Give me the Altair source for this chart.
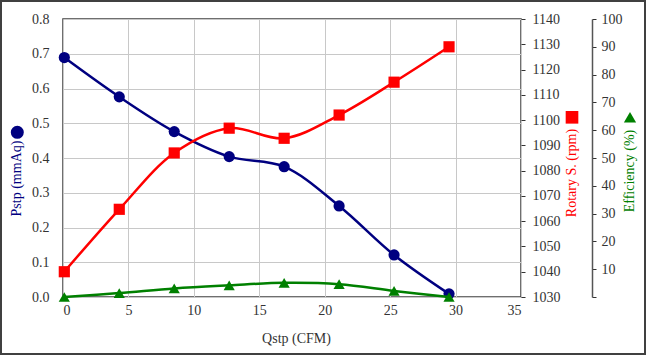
import altair as alt
import pandas as pd

q = [0.1, 4.3, 8.5, 12.7, 16.9, 21.1, 25.3, 29.5]
pstp = [0.689, 0.576, 0.476, 0.404, 0.375, 0.262, 0.121, 0.009]
rpm = [1040, 1064.7, 1087, 1096.8, 1092.8, 1102, 1115, 1129]
eff = [0, 1.4, 3.1, 4.2, 5.1, 4.6, 2.2, 0]

x_ticks = [0, 5, 10, 15, 20, 25, 30, 35]
pstp_ticks = [0, 0.1, 0.2, 0.3, 0.4, 0.5, 0.6, 0.7, 0.8]
rpm_ticks = [1030, 1040, 1050, 1060, 1070, 1080, 1090, 1100, 1110, 1120, 1130, 1140]
eff_ticks = [0, 10, 20, 30, 40, 50, 60, 70, 80, 90, 100]

df = pd.DataFrame({"q": q, "pstp": pstp, "rpm": rpm, "eff": eff})

FONT = "Liberation Serif"
W, H = 458, 278
BLUE, RED, GREEN = "#000080", "#FF0000", "#008000"

x_enc = alt.X("q:Q", scale=alt.Scale(domain=[0, 35], nice=False),
              axis=alt.Axis(values=x_ticks, title="Qstp (CFM)", grid=True,
                            gridColor="#c8c8c8", ticks=False, domain=False,
                            labelPadding=6, titleX=233, titleY=41,
                            titleBaseline="middle", titleFontWeight="normal"))

def series(field, color, shape, scale, axis):
    base = alt.Chart(df).encode(x=x_enc, y=alt.Y(f"{field}:Q", scale=scale, axis=axis))
    line = base.mark_line(color=color, strokeWidth=2.5, interpolate="catmull-rom")
    pts = base.mark_point(shape=shape, filled=True, color=color, size=125, opacity=1)
    return alt.layer(line, pts)

blue = series("pstp", BLUE, "circle",
              alt.Scale(domain=[0, 0.8], nice=False),
              alt.Axis(orient="left", values=pstp_ticks, format=".1f", grid=True,
                       gridColor="#c8c8c8", ticks=False, domain=False, labelPadding=14,
                       title="Pstp (mmAq)", titleColor=BLUE, titleAngle=270,
                       titleX=-46.5, titleY=159, titleBaseline="middle",
                       titleFontWeight="normal"))

red = series("rpm", RED, "square",
             alt.Scale(domain=[1030, 1140], nice=False),
             alt.Axis(orient="right", values=rpm_ticks, format="d", grid=False, ticks=True,
                      tickSize=4, tickColor="#333", domain=False, labelPadding=7,
                      title="Rotary S. (rpm)", titleColor=RED, titleAngle=270,
                      titleX=50, titleY=153.5, titleBaseline="middle",
                      titleFontWeight="normal"))

green = series("eff", GREEN, "triangle-up",
               alt.Scale(domain=[0, 100], nice=False),
               alt.Axis(orient="right", offset=71, values=eff_ticks, format="d", grid=False,
                        ticks=True, tickSize=4, tickColor="#333", domain=True,
                        domainColor="#555", domainWidth=1.5, labelPadding=5,
                        labelExpr="datum.value == 0 ? '' : datum.label",
                        title="Efficiency (%)", titleColor=GREEN, titleAngle=270,
                        titleX=37, titleY=151.5, titleBaseline="middle",
                        titleFontWeight="normal"))

one = pd.DataFrame({"a": [0]})

# title key symbols (decoration beside the axis titles)
key_circle = alt.Chart(one).mark_point(shape="circle", filled=True, color=BLUE,
                                       size=170, opacity=1).encode(
    x=alt.value(-45.7), y=alt.value(113.3))
key_square = alt.Chart(one).mark_point(shape="square", filled=True, color=RED,
                                       size=160, opacity=1).encode(
    x=alt.value(509), y=alt.value(98.3))
key_tri = alt.Chart(one).mark_point(shape="triangle-up", filled=True, color=GREEN,
                                    size=150, opacity=1).encode(
    x=alt.value(567), y=alt.value(98.3))

frame = alt.Chart(one).mark_rect(
    fill=None, stroke="#404040", strokeWidth=2
).encode(x=alt.value(-62), x2=alt.value(582), y=alt.value(-18), y2=alt.value(335))

chart = alt.layer(blue, red, green, key_circle, key_square, key_tri, frame).resolve_scale(
    y="independent"
).properties(
    width=W, height=H,
    background="white",
    autosize=alt.AutoSizeParams(type="none"),
    padding={"left": 63, "top": 19, "right": 126, "bottom": 59},
).configure_view(stroke="#404040", strokeWidth=1.5).configure_axis(
    labelFont=FONT, titleFont=FONT, labelFontSize=14, titleFontSize=14,
    labelColor="#333", titleColor="#333"
)

chart.save("out.html", embed_options={"renderer": "svg", "actions": False})
